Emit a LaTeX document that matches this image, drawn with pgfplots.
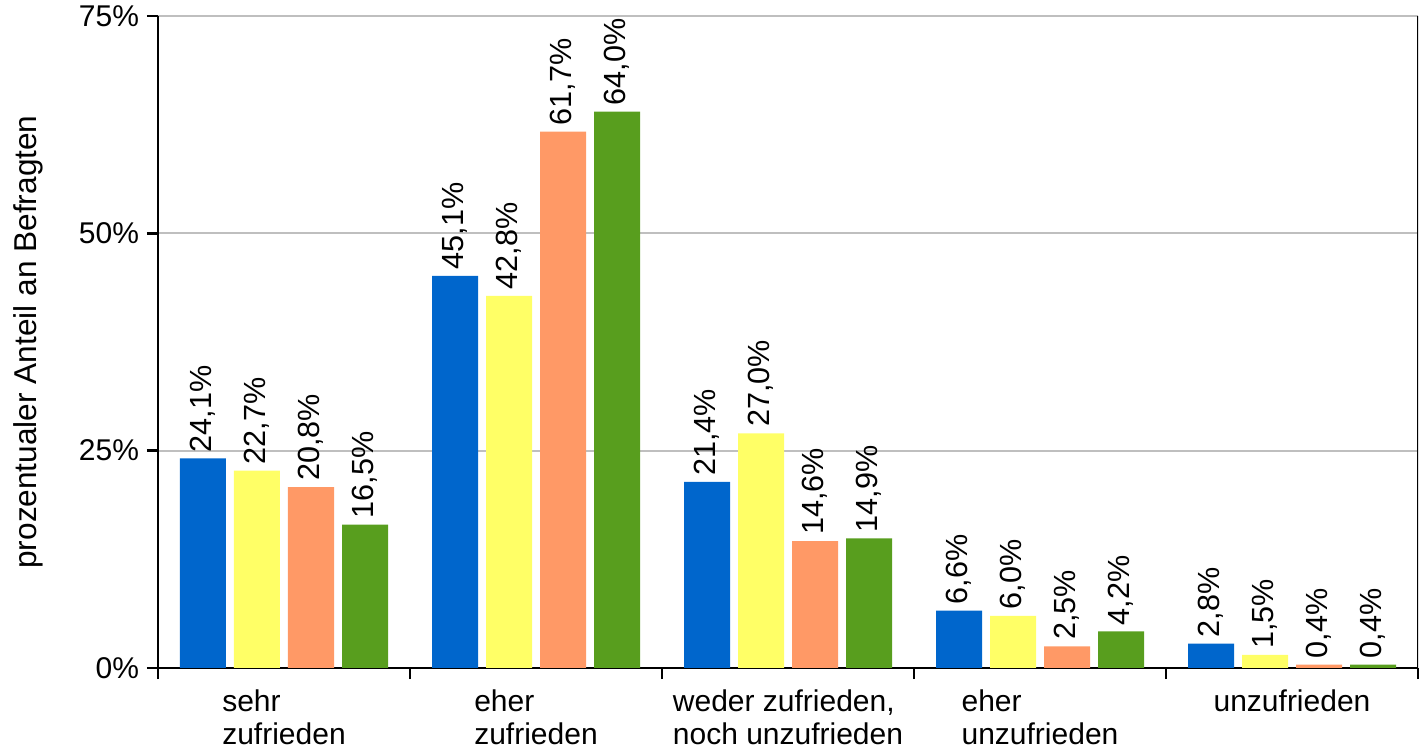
\documentclass[border=0pt]{standalone}
\usepackage{pgfplots}
\pgfplotsset{compat=1.18}
\usepackage{fontspec}
\setmainfont{Liberation Sans}

\definecolor{cblue}{RGB}{0,102,204}
\definecolor{cyellow}{RGB}{255,255,102}
\definecolor{corange}{RGB}{255,153,102}
\definecolor{cgreen}{RGB}{88,158,30}

\begin{document}
\begin{tikzpicture}
\begin{axis}[
    scale only axis,
    width=630bp, height=326bp,
    font=\fontsize{15bp}{16.5bp}\selectfont,
    xmin=-0.5, xmax=4.5,
    ymin=0, ymax=75,
    ybar=4bp, bar width=23bp,
    axis x line*=bottom, axis y line*=left,
    axis line style={line width=1.2bp},
    ytick={0,25,50,75},
    yticklabel={\pgfmathprintnumber{\tick}\%},
    /pgf/number format/assume math mode=true,
    ymajorgrids,
    grid style={line width=1bp, color=black!25},
    xtick={-0.5,0.5,1.5,2.5,3.5,4.5},
    xticklabels={{sehr\\zufrieden},{eher\\zufrieden},{weder zufrieden,\\noch unzufrieden},{eher\\unzufrieden},{unzufrieden},{}},
    x tick label as interval,
    xticklabel style={align=left, anchor=north, yshift=-2bp},
    yticklabel style={xshift=-0.5bp},
    tick align=outside,
    major tick length=5.5bp,
    tick style={line width=1.2bp, black},
    ylabel={prozentualer Anteil an Befragten},
    every axis y label/.style={at={(rel axis cs:0,0.5)}, xshift=-65bp, rotate=90, anchor=center, font=\fontsize{15.8bp}{18bp}\selectfont},
    nodes near coords={\pgfmathprintnumber[fixed,fixed zerofill,precision=1,use comma]{\pgfplotspointmeta}\%},
    every node near coord/.append style={rotate=90, anchor=west, font=\fontsize{15.3bp}{16bp}\selectfont, inner xsep=3bp},
]
\addplot[fill=cblue, draw=none] coordinates {(0,24.1) (1,45.1) (2,21.4) (3,6.6) (4,2.8)};
\addplot[fill=cyellow, draw=none] coordinates {(0,22.7) (1,42.8) (2,27.0) (3,6.0) (4,1.5)};
\addplot[fill=corange, draw=none] coordinates {(0,20.8) (1,61.7) (2,14.6) (3,2.5) (4,0.4)};
\addplot[fill=cgreen, draw=none] coordinates {(0,16.5) (1,64.0) (2,14.9) (3,4.2) (4,0.4)};
\draw[line width=1.2bp] (rel axis cs:1,0) -- (rel axis cs:1,1);
\coordinate (O) at (rel axis cs:0,0);
\end{axis}
\pgfresetboundingbox
\path (O) ++(-79bp,-42.5bp) rectangle ++(712bp,376.5bp);
\end{tikzpicture}
\end{document}
